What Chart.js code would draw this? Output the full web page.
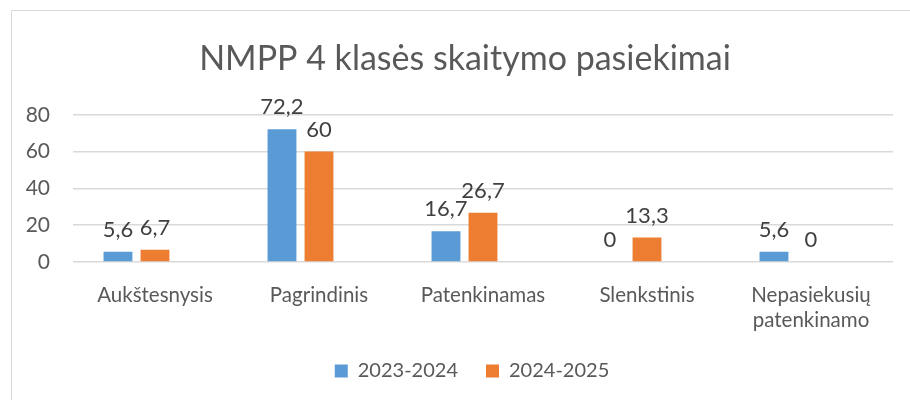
<!DOCTYPE html>
<html>
<head>
<meta charset="utf-8">
<script src="https://cdn.jsdelivr.net/npm/chart.js@4"></script>
<style>
html,body{margin:0;padding:0;background:#fff;overflow:hidden;}
#wrap{position:relative;width:910px;height:400px;}
#frame{position:absolute;left:11px;top:10px;width:1000px;height:500px;border:1.5px solid #d9d9d9;box-sizing:border-box;}
canvas{position:absolute;left:0;top:0;}
</style>
</head>
<body>
<div id="wrap"><div id="frame"></div><canvas id="c" width="910" height="400"></canvas></div>
<script>
const categories = ["Aukštesnysis", "Pagrindinis", "Patenkinamas", "Slenkstinis", ["Nepasiekusių", "patenkinamo"]];
const series2023 = [5.6, 72.2, 16.7, 0, 5.6];
const series2024 = [6.7, 60, 26.7, 13.3, 0];
const emptySeries = [null, null, null, null, null];
const seriesNames = ["2023-2024", "2024-2025"];
const yTicks = [0, 20, 40, 60, 80];
const titleText = "NMPP 4 klasės skaitymo pasiekimai";

const FONT = "Lato, Carlito, Calibri, sans-serif";

const valueLabels = {
  id: 'valueLabels',
  afterDatasetsDraw(chart) {
    const ctx = chart.ctx;
    ctx.save();
    ctx.font = "22px " + FONT;
    ctx.fillStyle = "#404040";
    ctx.textAlign = "center";
    ctx.textBaseline = "alphabetic";
    chart.data.datasets.forEach((ds, i) => {
      if (!ds.showValues) return;
      const meta = chart.getDatasetMeta(i);
      meta.data.forEach((bar, j) => {
        const v = ds.data[j];
        if (v === null || v === undefined) return;
        ctx.fillText(String(v).replace('.', ','), bar.x, bar.y - 15);
      });
    });
    ctx.restore();
  }
};

const legendShift = {
  id: 'legendShift',
  afterLayout(chart) {
    if (chart.legend) { chart.legend.left += 7; chart.legend.right += 7; }
  }
};

const barOpts = { barPercentage: 0.78, categoryPercentage: 0.677 };

new Chart(document.getElementById('c'), {
  type: 'bar',
  data: {
    labels: categories,
    datasets: [
      Object.assign({ label: seriesNames[0], data: series2023, backgroundColor: '#5B9BD5', showValues: true }, barOpts),
      Object.assign({ label: seriesNames[1], data: series2024, backgroundColor: '#ED7D31', showValues: true }, barOpts),
      Object.assign({ label: '', data: emptySeries, backgroundColor: 'rgba(0,0,0,0)', showValues: false }, barOpts)
    ]
  },
  options: {
    responsive: false,
    animation: false,
    devicePixelRatio: 1,
    layout: { padding: { left: 0, right: -20, top: 0, bottom: 9 } },
    plugins: {
      title: {
        display: true, text: titleText, color: '#595959',
        font: { family: FONT, size: 34, weight: 'normal' },
        padding: { top: 39, bottom: 35 }
      },
      legend: {
        position: 'bottom',
        labels: {
          color: '#595959', font: { family: FONT, size: 20 },
          boxWidth: 13, boxHeight: 13, padding: 28,
          filter: (item) => item.text !== ''
        }
      },
      tooltip: { enabled: false }
    },
    scales: {
      x: {
        grid: { display: false },
        border: { display: false },
        ticks: { color: '#595959', font: { family: FONT, size: 20.5 }, padding: 13, maxRotation: 0, autoSkip: false },
        afterFit(s) { s.height = 71; s.paddingLeft = 0; s.paddingRight = 0; }
      },
      y: {
        min: 0, max: 80,
        afterBuildTicks(s) { s.ticks = yTicks.map(v => ({ value: v })); },
        grid: { color: '#d9d9d9', lineWidth: 1.5, drawTicks: false },
        border: { display: false },
        ticks: { color: '#595959', font: { family: FONT, size: 21 }, padding: 23 },
        afterFit(s) { s.width = 73; }
      },
      yRight: {
        type: 'linear', position: 'right', display: true,
        grid: { display: false, drawOnChartArea: false },
        border: { display: false },
        ticks: { display: false },
        afterFit(s) { s.width = 37; }
      }
    }
  },
  plugins: [valueLabels, legendShift]
});
</script>
</body>
</html>
